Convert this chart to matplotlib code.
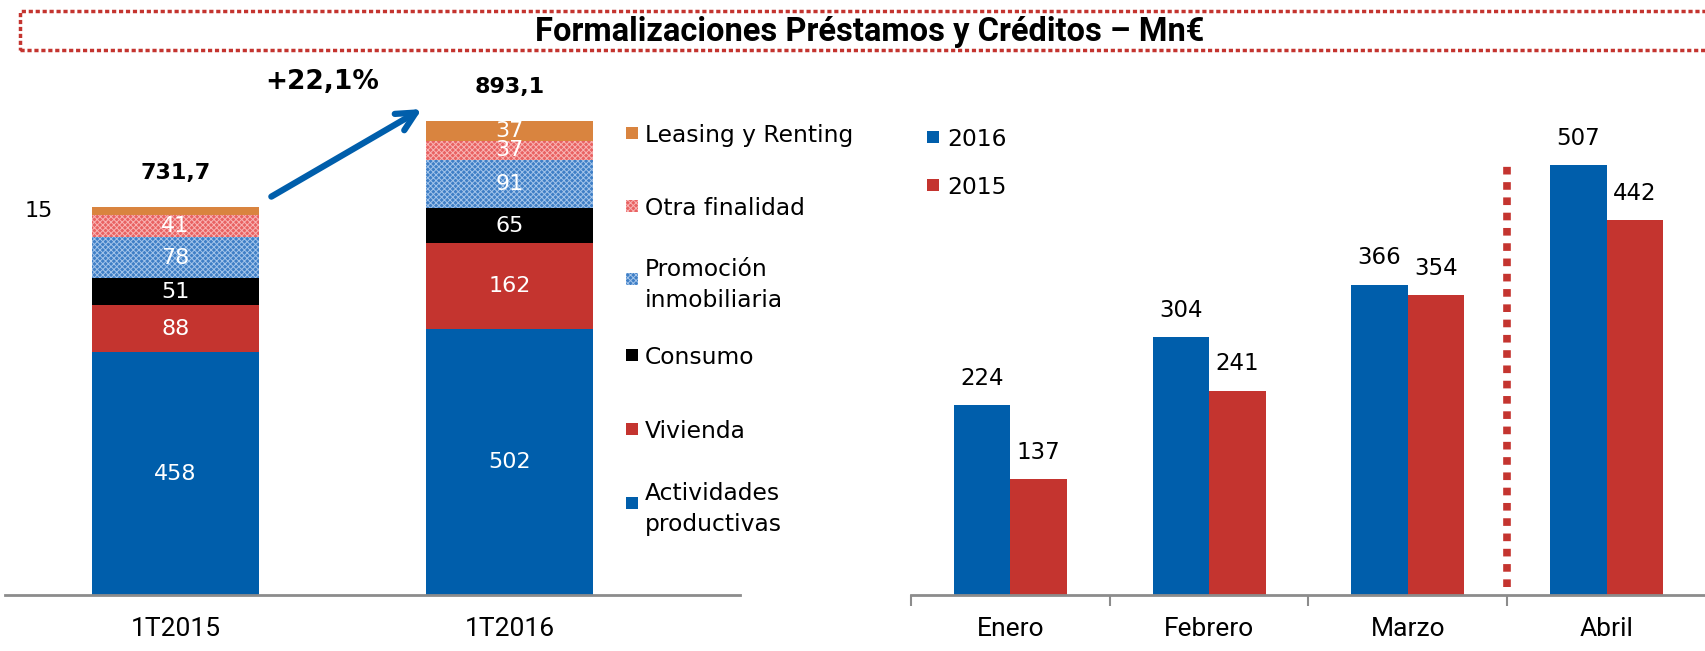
import numpy as np
import matplotlib.pyplot as plt
from matplotlib.patches import Rectangle

# Left chart: stacked formalizations per quarter (Mn€)
periods = ['1T2015', '1T2016']
actividades = [458, 502]
vivienda = [88, 162]
consumo = [51, 65]
promocion = [78, 91]
otra = [41, 37]
leasing = [15, 37]
total_values = [731.7, 893.1]
total_labels = ['731,7', '893,1']
growth = '+22,1%'

# Right chart: monthly formalizations
months = ['Enero', 'Febrero', 'Marzo', 'Abril']
y2016 = [224, 304, 366, 507]
y2015 = [137, 241, 354, 442]

BLUE = '#005eab'
RED = '#c4342f'
ORANGE = '#d9843f'
PINK = '#e96262'
PINK_H = '#f8b4b4'
LBLUE = '#3f7fc6'
LBLUE_H = '#a3c4ea'
GREY = '#8c8c8c'

plt.rcParams['font.family'] = ['DejaVu Sans']
plt.rcParams['hatch.linewidth'] = 0.7
NARROW = ['Roboto', 'DejaVu Sans']

W, H = 1706, 651


def fx(px):
    return px / W


def fy(py):
    return 1 - py / H


fig = plt.figure(figsize=(W / 100, H / 100), dpi=100)

# title with dotted frame
fig.add_artist(Rectangle((fx(20), fy(50)), 1.0, 39 / H, transform=fig.transFigure,
                         fill=False, edgecolor=RED, lw=2.5, ls=(0, (1.2, 0.8))))
fig.text(fx(870), fy(32), 'Formalizaciones Préstamos y Créditos – Mn€', ha='center',
         va='center', fontsize=23.5, fontweight='bold', family=NARROW)

# ---------------- left chart ----------------
ax = fig.add_axes([fx(5), fy(595), 735 / W, 535 / H])
segments = [
    ('Actividades\nproductivas', actividades, BLUE, None, None),
    ('Vivienda', vivienda, RED, None, None),
    ('Consumo', consumo, 'black', None, None),
    ('Promoción\ninmobiliaria', promocion, LBLUE, 'xxxxxx', LBLUE_H),
    ('Otra finalidad', otra, PINK, 'xxxxxx', PINK_H),
    ('Leasing y Renting', leasing, ORANGE, None, None),
]
x = np.arange(len(periods))
bottom = np.zeros(len(periods))
for name, vals, col, hatch, hcol in segments:
    vals = np.array(vals, dtype=float)
    if hatch:
        ax.bar(x, vals, 0.5, bottom=bottom, color=col, edgecolor=hcol, lw=0, hatch=hatch)
    else:
        ax.bar(x, vals, 0.5, bottom=bottom, color=col, lw=0)
    for i, v in enumerate(vals):
        yc = bottom[i] + v / 2
        if v < 20:
            ax.text(i - 0.41, yc, f'{v:.0f}', ha='center', va='center', fontsize=16, color='black')
        else:
            ax.text(i, yc, f'{v:.0f}', ha='center', va='center', fontsize=16, color='white')
    bottom += vals

for i, (tv, tl) in enumerate(zip(total_values, total_labels)):
    ax.text(i, tv + 46, tl, ha='center', va='bottom', fontsize=16, fontweight='bold')

ax.annotate('', xy=(0.745, total_values[1] + 26), xytext=(0.28, total_values[0] + 17),
            arrowprops=dict(arrowstyle='->', color=BLUE, lw=4.5, mutation_scale=34))
ax.text(0.44, 967, growth, ha='center', va='center', fontsize=19, fontweight='bold')

ax.set_xlim(-0.51, 1.69)
ax.set_ylim(0, 1009)
ax.set_xticks(x, periods)
ax.tick_params(axis='x', length=0, pad=16, labelsize=19)
for lab in ax.get_xticklabels():
    lab.set_family(NARROW)
ax.set_yticks([])
for s in ['top', 'left', 'right']:
    ax.spines[s].set_visible(False)
ax.spines['bottom'].set_color(GREY)
ax.spines['bottom'].set_linewidth(2)

# legend for stacked bars
leg_y = [133, 206, 279, 355, 429, 503]
for (name, vals, col, hatch, hcol), py in zip(segments[::-1], leg_y):
    fig.add_artist(Rectangle((fx(626), fy(py + 6)), 12 / W, 12 / H, transform=fig.transFigure,
                             facecolor=col, edgecolor=hcol if hatch else col, lw=0, hatch=hatch))
    fig.text(fx(645), fy(py), name, ha='left', va='center_baseline', fontsize=16.8,
             linespacing=1.42)

# ---------------- right chart ----------------
ax2 = fig.add_axes([fx(911), fy(595), (W - 911) / W, 535 / H])
xm = np.arange(len(months))
w = 0.284
ax2.bar(xm - w / 2, y2016, w, color=BLUE, lw=0)
ax2.bar(xm + w / 2, y2015, w, color=RED, lw=0)
for i in range(len(months)):
    ax2.text(xm[i] - w / 2, y2016[i] + 18, str(y2016[i]), ha='center', va='bottom', fontsize=16.5)
    ax2.text(xm[i] + w / 2, y2015[i] + 18, str(y2015[i]), ha='center', va='bottom', fontsize=16.5)

ax2.axvline(2.5, ymin=0.015, ymax=0.813, color=RED, lw=5.5, ls=(0, (1, 1)))

ax2.set_xlim(-0.5, 3.5)
ax2.set_ylim(0, 631)
ax2.set_xticks([-0.5, 0.5, 1.5, 2.5])
ax2.set_xticklabels([])
ax2.set_xticks(xm, months, minor=True)
ax2.tick_params(axis='x', which='major', length=8, width=1.5, color=GREY, direction='out')
ax2.tick_params(axis='x', which='minor', length=0, pad=16, labelsize=19)
for lab in ax2.get_xticklabels(minor=True):
    lab.set_family(NARROW)
ax2.set_yticks([])
for s in ['top', 'left', 'right']:
    ax2.spines[s].set_visible(False)
ax2.spines['bottom'].set_color(GREY)
ax2.spines['bottom'].set_linewidth(2)

for label, col, py in [('2016', BLUE, 137), ('2015', RED, 185)]:
    fig.add_artist(Rectangle((fx(927), fy(py + 6)), 12 / W, 12 / H, transform=fig.transFigure,
                             facecolor=col, lw=0))
    fig.text(fx(947), fy(py), label, ha='left', va='center_baseline', fontsize=16.8)

fig.savefig('out.png', dpi=100)
